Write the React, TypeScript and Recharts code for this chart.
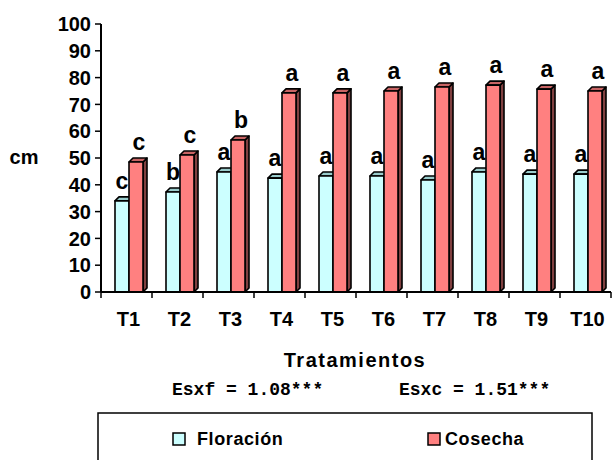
import React from "react";
import { BarChart, Bar, XAxis, YAxis, LabelList } from "recharts";

const categories = ["T1", "T2", "T3", "T4", "T5", "T6", "T7", "T8", "T9", "T10"];
const floracion = [34, 37.3, 44.8, 42.5, 43.3, 43.3, 41.8, 44.8, 44, 44];
const cosecha = [48.5, 51.1, 56.7, 74.3, 74.3, 75, 76.5, 77.2, 75.7, 75];
const floracionLetters = ["c", "b", "a", "a", "a", "a", "a", "a", "a", "a"];
const cosechaLetters = ["c", "c", "b", "a", "a", "a", "a", "a", "a", "a"];
const yTicks = [0, 10, 20, 30, 40, 50, 60, 70, 80, 90, 100];

const data = categories.map((c, i) => ({
  name: c,
  flor: floracion[i],
  cos: cosecha[i],
  fl: floracionLetters[i],
  cl: cosechaLetters[i],
}));

const W = 614;
const H = 460;
const PLOT_BOTTOM = 292;
const SHIFT = 2;
const DEPTH = 4;
const FONT = "Arial, 'Liberation Sans', Helvetica, sans-serif";

const make3D = (front: string, top: string, side: string) => (props: any) => {
  const { x, y, width, height } = props;
  if (width == null || height == null) return null;
  const x0 = x + SHIFT;
  const d = DEPTH;
  return (
    <g stroke="#000" strokeWidth={1.6} strokeLinejoin="round">
      <polygon
        points={`${x0 + width},${y} ${x0 + width + d},${y - d} ${x0 + width + d},${y + height - d} ${x0 + width},${y + height}`}
        fill={side}
      />
      <polygon
        points={`${x0},${y} ${x0 + d},${y - d} ${x0 + width + d},${y - d} ${x0 + width},${y}`}
        fill={top}
      />
      <rect x={x0} y={y} width={width} height={height} fill={front} />
    </g>
  );
};

const FlorShape = make3D("#CCFFFF", "#99CCCC", "#669999");
const CosShape = make3D("#FF8080", "#C86464", "#804040");

const letterLabel = (dx: number) => (props: any) => {
  const { x, y, width, value } = props;
  return (
    <text
      x={x + width / 2 + SHIFT + dx}
      y={y - 12}
      textAnchor="middle"
      fontFamily={FONT}
      fontWeight="bold"
      fontSize={23}
      fill="#000"
    >
      {value}
    </text>
  );
};

const XTick = (props: any) => {
  const { x, payload, index } = props;
  const half = 25.5;
  return (
    <g>
      <line x1={x - half} y1={PLOT_BOTTOM} x2={x - half} y2={PLOT_BOTTOM + 6} stroke="#000" strokeWidth={1.5} />
      {index === categories.length - 1 && (
        <line x1={x + half} y1={PLOT_BOTTOM} x2={x + half} y2={PLOT_BOTTOM + 6} stroke="#000" strokeWidth={1.5} />
      )}
      <text x={x + 2} y={326} textAnchor="middle" fontFamily={FONT} fontWeight="bold" fontSize={20} fill="#000">
        {payload.value}
      </text>
    </g>
  );
};

export default function App() {
  return (
    <div style={{ position: "absolute", left: 0, top: 0, width: W, height: H, background: "#fff", overflow: "hidden" }}>
      <BarChart
        width={W}
        height={H}
        data={data}
        margin={{ top: 24, right: 3, left: 0, bottom: 128 }}
        barGap={0}
        barSize={14}
      >
        <XAxis
          dataKey="name"
          height={40}
          tickLine={false}
          axisLine={{ stroke: "#000", strokeWidth: 2 }}
          tick={<XTick />}
          interval={0}
        />
        <YAxis
          width={101}
          domain={[0, 100]}
          ticks={yTicks}
          interval={0}
          tickSize={6}
          tickMargin={4}
          axisLine={{ stroke: "#000", strokeWidth: 2 }}
          tickLine={{ stroke: "#000", strokeWidth: 1.5 }}
          tick={{ fontFamily: FONT, fontWeight: "bold", fontSize: 20, fill: "#000" }}
        />
        <Bar dataKey="flor" shape={FlorShape} isAnimationActive={false}>
          <LabelList dataKey="fl" content={letterLabel(0)} />
        </Bar>
        <Bar dataKey="cos" shape={CosShape} isAnimationActive={false}>
          <LabelList dataKey="cl" content={letterLabel(3)} />
        </Bar>
      </BarChart>
      <svg
        width={W}
        height={H}
        style={{ position: "absolute", left: 0, top: 0, pointerEvents: "none" }}
      >
        <text x={24} y={164} textAnchor="middle" fontFamily={FONT} fontWeight="bold" fontSize={20} fill="#000">
          cm
        </text>
        <text x={355} y={367} textAnchor="middle" fontFamily={FONT} fontWeight="bold" fontSize={20} letterSpacing={1.5} fill="#000">
          Tratamientos
        </text>
        <text x={172} y={395} fontFamily="'Courier New', 'Liberation Mono', monospace" fontWeight="bold" fontSize={18} fill="#000">
          Esxf = 1.08***
        </text>
        <text x={399} y={395} fontFamily="'Courier New', 'Liberation Mono', monospace" fontWeight="bold" fontSize={18} fill="#000">
          Esxc = 1.51***
        </text>
        <rect x={98} y={413} width={494} height={60} fill="none" stroke="#000" strokeWidth={1.5} />
        <rect x={173} y={433} width={12} height={12} fill="#CCFFFF" stroke="#000" strokeWidth={1.5} />
        <text x={197} y={445} fontFamily={FONT} fontWeight="bold" fontSize={18} letterSpacing={0.6} fill="#000">
          Floración
        </text>
        <rect x={428} y={433} width={12} height={12} fill="#FF8080" stroke="#000" strokeWidth={1.5} />
        <text x={445} y={445} fontFamily={FONT} fontWeight="bold" fontSize={18} letterSpacing={0.6} fill="#000">
          Cosecha
        </text>
      </svg>
    </div>
  );
}
